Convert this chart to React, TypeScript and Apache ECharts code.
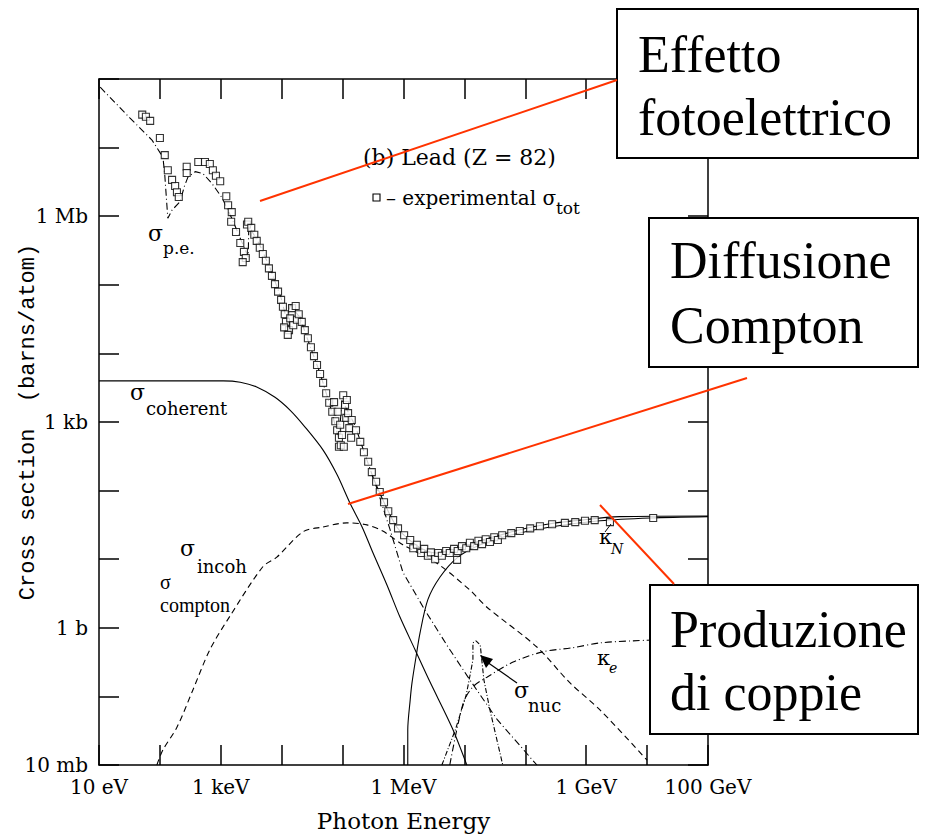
import React, { useEffect, useRef } from 'react';
import * as echarts from 'echarts';

// Axes: x = log10(photon energy / eV), y = log10(cross section / barn)
const xTickLabels: Record<number, string> = { 1: '10 eV', 3: '1 keV', 6: '1 MeV', 9: '1 GeV', 11: '100 GeV' };
const yTickLabels: Record<number, string> = { [-2]: '10 mb', 0: '1 b', 3: '1 kb', 6: '1 Mb' };

// sigma photoelectric (dash-dot)
const photoelectric: number[][] = [
  [1.02, 7.88], [1.51, 7.43], [1.87, 7.11], [2.05, 6.86], [2.08, 6.60], [2.13, 5.97], [2.20, 6.09],
  [2.33, 6.21], [2.40, 6.43], [2.46, 6.57], [2.58, 6.65], [2.71, 6.62], [2.86, 6.47], [3.02, 6.27],
  [3.18, 5.97], [3.40, 5.51], [3.45, 5.41], [3.46, 5.86], [3.64, 5.58], [3.81, 5.24], [3.99, 4.81],
  [4.09, 4.46], [4.14, 4.71], [4.30, 4.52], [4.46, 4.12], [4.63, 3.71], [4.79, 3.25], [4.94, 2.74],
  [4.99, 3.32], [5.20, 2.96], [5.37, 2.52], [5.56, 2.04], [5.78, 1.43], [5.99, 0.81], [6.35, 0.26],
  [6.71, -0.25], [7.09, -0.76], [7.54, -1.34], [8.19, -2.0],
];

// sigma coherent (solid)
const coherent: number[][] = [
  [1.0, 3.60], [3.04, 3.60], [3.32, 3.58], [3.59, 3.51], [3.89, 3.36], [4.14, 3.17], [4.38, 2.93],
  [4.68, 2.59], [4.91, 2.23], [5.12, 1.82], [5.32, 1.47], [5.50, 1.09], [5.73, 0.62], [5.94, 0.16],
  [6.19, -0.32], [6.43, -0.78], [6.80, -1.46], [7.04, -2.0],
];

// sigma incoherent / compton (dashed)
const incoherent: number[][] = [
  [1.95, -2.0], [2.05, -1.78], [2.28, -1.45], [2.54, -0.91], [2.82, -0.32], [3.15, 0.17], [3.69, 0.89],
  [3.92, 1.03], [4.35, 1.40], [4.68, 1.47], [5.07, 1.53], [5.40, 1.50], [5.66, 1.41], [5.99, 1.21],
  [6.55, 0.94], [7.09, 0.55], [7.37, 0.30], [8.19, -0.28], [8.73, -0.80], [9.23, -1.20], [10.0, -1.93],
];

// kappa_N pair production, nuclear field (solid)
const pairNuclear: number[][] = [
  [6.07, -2.0], [6.07, -1.49], [6.11, -1.05], [6.14, -0.80], [6.21, -0.40], [6.27, -0.08], [6.40, 0.41],
  [6.60, 0.74], [6.88, 1.02], [7.26, 1.21], [7.75, 1.35], [8.41, 1.47], [9.23, 1.56], [10.05, 1.60],
  [11.0, 1.62],
];

// kappa_e pair production, electron field (dash-dot)
const pairElectron: number[][] = [
  [6.76, -2.0], [6.98, -1.10], [7.14, -0.86], [7.37, -0.72], [7.80, -0.50], [8.29, -0.35], [8.78, -0.29],
  [9.23, -0.22], [9.77, -0.19], [11.0, -0.15],
];

// sigma nuclear (giant dipole resonance, dash-dot)
const nuclear: number[][] = [
  [6.63, -2.0], [6.85, -1.49], [7.03, -0.98], [7.14, -0.47], [7.14, -0.22], [7.19, -0.19], [7.26, -0.25],
  [7.32, -0.76], [7.42, -1.20], [7.63, -2.0],
];

// sigma total (solid)
const total: number[][] = [
  [5.48, 2.23], [5.70, 1.79], [5.89, 1.47], [6.11, 1.27], [6.35, 1.13], [6.55, 1.09], [6.76, 1.13],
  [7.01, 1.19], [7.26, 1.27], [7.58, 1.35], [7.91, 1.43], [8.36, 1.51], [8.90, 1.57], [9.55, 1.62],
  [11.0, 1.63],
];

// experimental sigma_tot points
const experimental: number[][] = [
  [1.71, 7.48], [1.77, 7.45], [1.84, 7.39], [2.00, 7.14], [2.08, 6.89], [2.13, 6.67], [2.20, 6.53],
  [2.25, 6.44], [2.28, 6.35], [2.31, 6.28], [2.44, 6.72], [2.44, 6.63], [2.63, 6.79], [2.74, 6.79],
  [2.82, 6.76], [2.87, 6.67], [2.92, 6.59], [2.99, 6.51], [3.09, 6.29], [3.12, 6.16], [3.18, 6.06],
  [3.17, 5.92], [3.25, 5.77], [3.32, 5.61], [3.38, 5.48], [3.41, 5.39], [3.36, 5.33], [3.43, 5.88],
  [3.45, 5.92], [3.50, 5.83], [3.55, 5.73], [3.59, 5.64], [3.64, 5.54], [3.69, 5.45], [3.74, 5.35],
  [3.79, 5.24], [3.84, 5.13], [3.89, 5.01], [3.94, 4.90], [3.99, 4.78], [4.02, 4.68], [4.05, 4.57],
  [4.07, 4.46], [4.12, 4.34], [4.04, 4.38], [4.10, 4.27], [4.14, 4.51], [4.17, 4.66], [4.19, 4.41],
  [4.23, 4.69], [4.25, 4.49], [4.28, 4.57], [4.33, 4.46], [4.38, 4.34], [4.43, 4.22], [4.48, 4.09],
  [4.53, 3.96], [4.58, 3.83], [4.63, 3.70], [4.68, 3.57], [4.73, 3.42], [4.78, 3.28], [4.83, 3.15],
  [4.86, 3.29], [4.88, 3.01], [4.91, 2.88], [4.92, 3.15], [4.94, 2.77], [4.94, 2.64], [4.96, 2.96],
  [4.97, 2.66], [4.99, 2.81], [5.01, 3.39], [5.02, 2.64], [5.04, 3.25], [5.06, 3.06], [5.07, 3.32],
  [5.09, 3.13], [5.11, 2.91], [5.14, 2.77], [5.15, 3.03], [5.22, 2.88], [5.29, 2.71], [5.35, 2.56],
  [5.42, 2.42], [5.48, 2.27], [5.55, 2.13], [5.61, 1.98], [5.68, 1.83], [5.75, 1.70], [5.83, 1.57],
  [5.91, 1.45], [6.01, 1.35], [6.11, 1.28], [6.16, 1.16], [6.22, 1.21], [6.29, 1.09], [6.34, 1.15],
  [6.40, 1.05], [6.45, 1.10], [6.52, 1.00], [6.57, 1.09], [6.63, 1.05], [6.70, 1.12], [6.76, 1.09],
  [6.83, 1.15], [6.88, 0.99], [6.89, 1.12], [6.96, 1.19], [7.03, 1.16], [7.09, 1.24], [7.16, 1.19],
  [7.23, 1.27], [7.29, 1.22], [7.35, 1.29], [7.42, 1.25], [7.49, 1.32], [7.55, 1.28], [7.62, 1.35],
  [7.77, 1.38], [7.91, 1.41], [8.08, 1.45], [8.24, 1.48], [8.44, 1.51], [8.65, 1.53], [8.82, 1.54],
  [8.98, 1.56], [9.14, 1.57], [9.39, 1.54], [10.10, 1.60],
];

const SERIF = '"DejaVu Serif", serif';
const TIMES = '"Liberation Serif", "Times New Roman", serif';
const RED = '#ff3300';

function txt(x: number, y: number, text: string, size: number, family = SERIF, extra: any = {}) {
  return {
    type: 'text', x, y, z: 120,
    style: { text, fontSize: size, fontFamily: family, fill: '#000', align: 'left', verticalAlign: 'middle', ...extra },
  };
}

function lineSeries(name: string, data: number[][], type: any, smooth: number | boolean = false) {
  return {
    name, type: 'line', data, showSymbol: false, smooth, z: 3,
    lineStyle: { color: '#000', width: 1.1, type },
  };
}

export default function App() {
  const ref = useRef<HTMLDivElement>(null);
  useEffect(() => {
    if (!ref.current) return;
    const chart = echarts.init(ref.current, null, { renderer: 'svg' });
    const axisCommon = {
      type: 'value',
      axisLine: { show: true, onZero: false, lineStyle: { color: '#000', width: 1.5 } },
      axisTick: { show: true, inside: true, length: 20, lineStyle: { color: '#000', width: 1.5 } },
      splitLine: { show: false },
      nameMoveOverlap: false,
    };
    const option: any = {
      animation: false,
      backgroundColor: '#fff',
      textStyle: { fontFamily: SERIF },
      grid: { left: 99, top: 79, width: 609, height: 686, containLabel: false, outerBoundsMode: 'none' },
      xAxis: [
        {
          ...axisCommon, min: 1, max: 11, interval: 1, position: 'bottom',
          axisLabel: {
            show: true, margin: 12, color: '#000', fontSize: 20, fontFamily: SERIF,
            formatter: (v: number) => xTickLabels[Math.round(v)] ?? '',
          },
          name: 'Photon Energy', nameLocation: 'middle', nameGap: 44,
          nameTextStyle: { color: '#000', fontSize: 23, fontFamily: SERIF },
        },
        {
          ...axisCommon, min: 1, max: 11, interval: 1, position: 'top',
          axisLabel: { show: false },
        },
      ],
      yAxis: [
        {
          ...axisCommon, min: -2, max: 8, interval: 1, position: 'left',
          axisLabel: {
            show: true, margin: 11, color: '#000', fontSize: 20, fontFamily: SERIF,
            formatter: (v: number) => yTickLabels[Math.round(v)] ?? '',
          },
          name: 'Cross section  (barns/atom)', nameLocation: 'middle', nameGap: 60, nameRotate: 90,
          nameTextStyle: { color: '#000', fontSize: 22, fontFamily: '"Liberation Mono", "DejaVu Sans Mono", monospace' },
        },
        {
          ...axisCommon, min: -2, max: 8, interval: 1, position: 'right',
          axisLabel: { show: false },
        },
      ],
      series: [
        lineSeries('σ p.e.', photoelectric, [7, 3, 1, 3]),
        lineSeries('σ coherent', coherent, 'solid', 0.3),
        lineSeries('σ incoh', incoherent, [6, 4], 0.3),
        lineSeries('κ N', pairNuclear, 'solid', 0.3),
        lineSeries('κ e', pairElectron, [7, 3, 1, 3], 0.3),
        lineSeries('σ nuc', nuclear, [5, 2, 1, 2]),
        lineSeries('σ tot', total, 'solid', 0.3),
        {
          name: 'experimental σ tot', type: 'scatter', data: experimental, symbol: 'rect', symbolSize: 7, z: 5,
          itemStyle: { color: '#fff', borderColor: '#000', borderWidth: 1.1 },
        },
      ],
      graphic: [
        // curve labels
        txt(148, 233, 'σ', 22), txt(163, 248, 'p.e.', 17),
        txt(130, 392, 'σ', 22), txt(146, 408, 'coherent', 18),
        txt(180, 548, 'σ', 22), txt(197, 566, 'incoh', 18),
        txt(160, 582, 'σ', 20, TIMES), txt(160, 605, 'compton', 20, TIMES),
        txt(599, 537, 'κ', 21), txt(611, 549, 'N', 14, SERIF, { fontStyle: 'italic' }),
        txt(597, 658, 'κ', 21), txt(609, 668, 'e', 14, SERIF, { fontStyle: 'italic' }),
        txt(514, 690, 'σ', 22), txt(528, 705, 'nuc', 18),
        txt(363, 157, '(b) Lead (Z = 82)', 22),
        {
          type: 'rect', z: 120, shape: { x: 373, y: 194, width: 7, height: 7 },
          style: { fill: '#fff', stroke: '#000', lineWidth: 1.1 },
        },
        txt(386, 198, '– experimental σ', 20), txt(556, 208, 'tot', 17),
        // sigma_nuc arrow
        { type: 'line', z: 120, shape: { x1: 517, y1: 683, x2: 487, y2: 662 }, style: { stroke: '#000', lineWidth: 1.2 } },
        { type: 'polygon', z: 120, shape: { points: [[480, 655], [493, 659], [486, 668]] }, style: { fill: '#000' } },
        // kappa_N arrow
        { type: 'line', z: 120, shape: { x1: 605, y1: 532, x2: 611, y2: 524 }, style: { stroke: '#000', lineWidth: 1 } },
        // callout boxes
        { type: 'rect', z: 130, shape: { x: 617, y: 9, width: 301, height: 149 }, style: { fill: '#fff', stroke: '#000', lineWidth: 2 } },
        { type: 'rect', z: 130, shape: { x: 649, y: 218, width: 269, height: 149 }, style: { fill: '#fff', stroke: '#000', lineWidth: 2 } },
        { type: 'rect', z: 130, shape: { x: 650, y: 585, width: 268, height: 149 }, style: { fill: '#fff', stroke: '#000', lineWidth: 2 } },
        { ...txt(638, 54, 'Effetto', 52, TIMES), z: 131 },
        { ...txt(638, 117, 'fotoelettrico', 52, TIMES), z: 131 },
        { ...txt(670, 260, 'Diffusione', 52, TIMES), z: 131 },
        { ...txt(670, 325, 'Compton', 52, TIMES), z: 131 },
        { ...txt(670, 629, 'Produzione', 52, TIMES), z: 131 },
        { ...txt(670, 692, 'di coppie', 52, TIMES), z: 131 },
        // red pointer lines
        { type: 'line', z: 140, shape: { x1: 260, y1: 201, x2: 617, y2: 80 }, style: { stroke: RED, lineWidth: 2 } },
        { type: 'line', z: 140, shape: { x1: 348, y1: 504, x2: 747, y2: 378 }, style: { stroke: RED, lineWidth: 2 } },
        { type: 'line', z: 140, shape: { x1: 600, y1: 505, x2: 674, y2: 584 }, style: { stroke: RED, lineWidth: 2 } },
      ],
    };
    chart.setOption(option);
    return () => chart.dispose();
  }, []);
  return <div ref={ref} style={{ position: 'absolute', left: 0, top: 0, width: 939, height: 839 }} />;
}
